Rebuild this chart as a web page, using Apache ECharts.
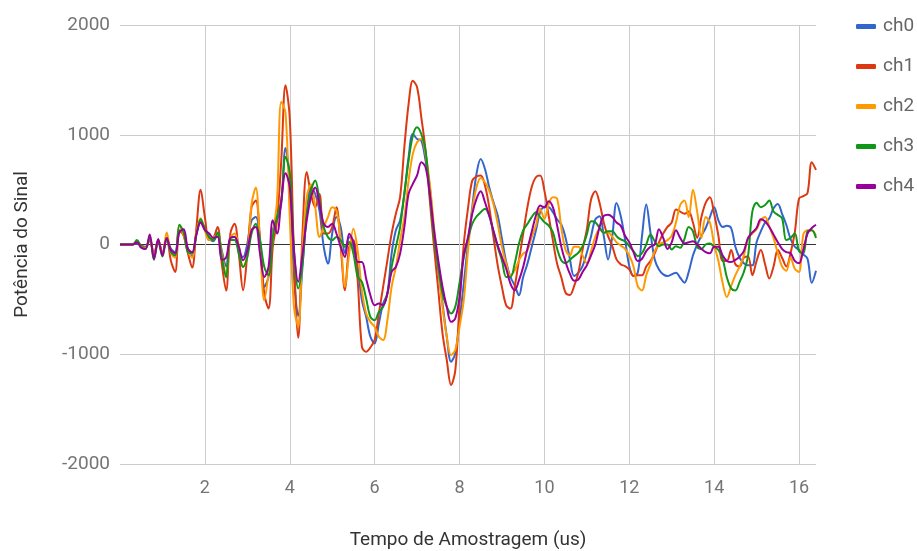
<!DOCTYPE html>
<html>
<head>
<meta charset="utf-8">
<script src="https://cdn.jsdelivr.net/npm/echarts@6/dist/echarts.min.js"></script>
<style>
  html, body { margin: 0; padding: 0; background: #fff; }
  #chart { width: 917px; height: 551px; }
</style>
</head>
<body>
<div id="chart"></div>
<script>
// amostras a cada 0.1 us, a partir de t = 0
const tempoInicial = 0
const passo = 0.1

const canais = ['ch0', 'ch1', 'ch2', 'ch3', 'ch4']
const cores = ['#3366cc', '#dc3912', '#ff9900', '#109618', '#990099']

// potência do sinal (t = 0.0 ... 16.4)
const ch0 = [
  0, 0, 0, 0, 10, -10, -20, 50, -90, 30,
  -80, 50, -40, -70, 120, 100, -40, -110, 100, 210,
  150, 60, 30, 100, -60, -200, 60, 70, -55, -114,
  8, 220, 250, 38, -386, -295, 130, 220, 370, 880,
  600, -300, -650, -205, 280, 520, 460, 310, -20, -175,
  100, 250, 160, -80, 68, -23, -205, -508, -659, -841,
  -902, -720, -538, -447, -83, 129, 220, 462, 795, 1007,
  962, 947, 765, 523, 98, -235, -538, -841, -1068, -992,
  -700, -357, 6, 340, 643, 779, 688, 522, 385, 264,
  52, -160, -296, -372, -463, -296, -175, -24, 128, 294,
  340, 340, 294, 230, 180, 60, -130, -287, -257, -197,
  -75, 76, 228, 258, 76, -136, 76, 379, 258, 46,
  -197, -287, -257, 76, 364, 106, -136, -227, -272, -287,
  -272, -257, -303, -348, -250, -100, 0, 80, 150, 250,
  340, 220, 160, 170, 150, -20, -120, -170, -190, -190,
  20, 120, 200, 240, 330, 370, 280, 180, 50, -20,
  -50, -90, -130, -350, -240
]
const ch1 = [
  0, 0, 0, 0, 20, -10, -30, 40, -100, 40,
  -80, 60, -150, -250, 130, 80, -80, -210, 150, 500,
  250, 40, 60, 160, -180, -420, 100, 190, -85, -417,
  -85, 340, 400, 40, -450, -583, -20, 220, 765, 1450,
  1150, -100, -850, 100, 660, 460, 340, 460, 100, 100,
  160, 340, -20, -417, -23, 38, -326, -932, -977, -938,
  -871, -629, -386, -144, 98, 280, 432, 886, 1280, 1492,
  1432, 1159, 856, 401, -23, -417, -811, -1053, -1280, -1150,
  -550, 0, 330, 582, 619, 628, 537, 340, 67, -190,
  -387, -554, -584, -387, -145, 98, 340, 522, 613, 628,
  491, 264, 37, -175, -300, -440, -460, -380, -257, -45,
  137, 410, 485, 379, 197, 76, -15, -136, -181, -197,
  -227, -287, -280, -280, -200, -150, -80, 20, 100, 160,
  200, 320, 300, 280, 300, 200, 60, 250, 380, 430,
  280, 80, -150, -150, -50, -180, -200, -120, -110, -280,
  -150, -50, -180, -310, -200, -50, -120, -200, -80, 110,
  420, 440, 470, 750, 680
]
const ch2 = [
  0, 0, 0, 0, 30, -20, -30, 60, -100, 40,
  -90, 110, -80, -120, 170, 80, -60, -120, 110, 240,
  130, 40, 60, 100, -80, -280, 60, 100, -20, -205,
  -110, 370, 520, -20, -510, -265, 70, 400, 1300, 1200,
  250, -570, -750, -20, 430, 550, 340, 68, 160, 250,
  340, 310, 40, -386, -83, 144, -53, -417, -629, -705,
  -750, -841, -871, -690, -386, -205, 38, 250, 583, 826,
  932, 962, 826, 553, 159, -205, -568, -841, -1008, -962,
  -750, -508, -54, 310, 522, 607, 567, 491, 370, 188,
  -24, -175, -281, -236, -145, -84, -54, 67, 173, 325,
  234, 370, 431, 416, 150, -50, -100, -20, -20, -100,
  -170, -60, 70, 140, 110, 110, 70, 20, -10, -40,
  -100, -200, -380, -420, -280, -180, -60, 0, 20, 40,
  80, 200, 360, 400, 250, 500, 300, 60, 250, 200,
  0, -150, -350, -480, -380, -280, -200, -100, 60, 100,
  140, 220, 250, 160, 60, -80, -200, -240, -120, -220,
  -250, 90, 130, 130, 80
]
const ch3 = [
  0, 0, 0, 0, 40, -20, -40, 70, -140, 30,
  -110, 60, -70, -100, 180, 110, -70, -80, 90, 230,
  140, 70, 40, 110, -120, -300, 40, 40, -85, -205,
  -114, 100, 190, 38, -205, -280, 68, 250, 400, 800,
  650, -50, -400, -175, 280, 490, 583, 400, 160, 68,
  38, 68, 38, -20, 23, -83, -295, -341, -492, -659,
  -690, -614, -568, -447, -205, -23, 159, 462, 765, 992,
  1068, 1007, 856, 462, 68, -205, -447, -568, -629, -568,
  -350, -115, 52, 188, 255, 294, 325, 264, 113, -24,
  -145, -296, -296, -175, 6, 128, 188, 249, 294, 249,
  204, 173, 113, -39, -145, -169, -140, -106, -75, -15,
  91, 212, 203, 152, 106, 121, 121, 76, 46, 30,
  -15, -60, -106, -80, 0, 91, 30, -15, 0, 0,
  -45, -15, -30, 50, 160, 120, -20, -40, 0, 10,
  -20, -50, -130, -300, -400, -420, -340, -250, -100, 300,
  380, 340, 360, 400, 300, 270, 240, 40, 60, 100,
  -60, -80, 120, 130, 60
]
const ch4 = [
  0, 0, 0, 0, 20, -30, -40, 90, -130, 50,
  -100, 60, -50, -80, 110, 140, -40, -70, 90, 200,
  130, 100, 60, 70, -140, -120, 60, 68, -20, -144,
  -55, 130, 160, -85, -295, -205, 220, 100, 400, 650,
  520, -60, -340, -85, 220, 430, 520, 370, 190, 160,
  190, 100, -20, -114, 98, 23, -159, -159, -311, -462,
  -553, -538, -553, -447, -250, -205, -83, 159, 462, 553,
  629, 750, 704, 462, 129, -144, -386, -568, -705, -674,
  -480, -99, 67, 279, 416, 485, 385, 264, 128, -9,
  -115, -221, -357, -418, -327, -205, -39, 113, 264, 355,
  340, 395, 340, 173, -24, -160, -266, -330, -320, -250,
  -190, -100, 0, 160, 260, 270, 250, 200, 170, 80,
  20, -70, -150, -130, -60, -20, 0, 140, 60, -40,
  20, 130, 60, 10, 20, 30, 0, -40, -70, -80,
  -20, -20, -100, -150, -160, -140, -110, -60, 60, 110,
  150, 230, 210, 160, 90, 20, -40, -70, -80, -150,
  -170, -50, 100, 150, 180
]
const valores = [ch0, ch1, ch2, ch3, ch4]

const yTicks = [-2000, -1000, 0, 1000, 2000]
const xTicks = [2, 4, 6, 8, 10, 12, 14, 16]

const fonte = 'Roboto, "Noto Sans", sans-serif'

const chart = echarts.init(document.getElementById('chart'), null, { renderer: 'canvas' })

// monta os pares [tempo, valor] de cada canal
const series = canais.map((nome, i) => ({
  name: nome,
  type: 'line',
  data: valores[i].map((v, k) => [+(tempoInicial + k * passo).toFixed(2), v]),
  showSymbol: false,
  smooth: 0.35,
  lineStyle: { width: 2, color: cores[i] },
  itemStyle: { color: cores[i] },
  emphasis: { disabled: true }
}))

const option = {
  animation: false,
  backgroundColor: '#fff',
  textStyle: { fontFamily: fonte },
  grid: { left: 120, right: 101, top: 25, bottom: 87, outerBoundsMode: 'none', containLabel: false },
  legend: {
    data: canais,
    orient: 'vertical',
    left: 851,
    top: 12,
    icon: 'roundRect',
    itemWidth: 20,
    itemHeight: 5,
    itemGap: 21,
    textStyle: { color: '#666', fontSize: 19, fontFamily: fonte, padding: [0, 0, 0, 2] }
  },
  xAxis: {
    type: 'value',
    min: 0,
    max: 16.4,
    interval: 2,
    name: 'Tempo de Amostragem (us)',
    nameLocation: 'middle',
    nameGap: 67,
    nameTextStyle: { color: '#333', fontSize: 19, fontFamily: fonte },
    axisLine: { show: false },
    axisTick: { show: false },
    axisLabel: {
      color: '#757575',
      fontSize: 18,
      margin: 15,
      showMinLabel: false,
      showMaxLabel: false,
      formatter: v => (xTicks.indexOf(v) >= 0 ? String(v) : '')
    },
    splitLine: { show: true, showMinLine: false, showMaxLine: false, lineStyle: { color: '#cccccc', width: 1 } }
  },
  yAxis: {
    type: 'value',
    min: yTicks[0],
    max: yTicks[yTicks.length - 1],
    interval: 1000,
    name: 'Potência do Sinal',
    nameLocation: 'middle',
    nameGap: 88,
    nameTextStyle: { color: '#333', fontSize: 19, fontFamily: fonte },
    axisLine: { show: false },
    axisTick: { show: false },
    axisLabel: { color: '#757575', fontSize: 19, margin: 10, formatter: v => String(v) },
    // linha do zero mais escura
    splitLine: { lineStyle: { color: yTicks.map(v => (v === 0 ? '#333333' : '#cccccc')), width: 1 } }
  },
  series: series
}

chart.setOption(option)
</script>
</body>
</html>
